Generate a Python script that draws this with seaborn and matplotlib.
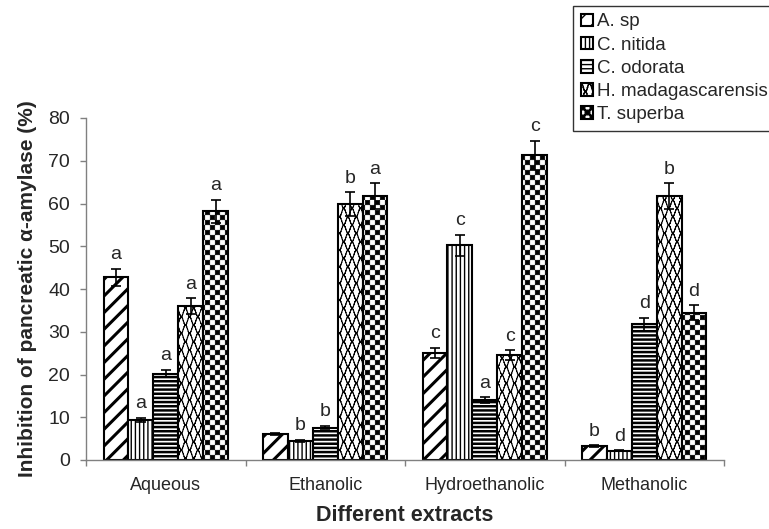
import numpy as np
import pandas as pd
import matplotlib
matplotlib.use("Agg")
import matplotlib.pyplot as plt
import matplotlib.hatch as mhatch
from matplotlib.path import Path
import seaborn as sns

# ---- data -------------------------------------------------------------
extracts = ["Aqueous", "Ethanolic", "Hydroethanolic", "Methanolic"]
species = ["A. sp", "C. nitida", "C. odorata", "H. madagascarensis", "T. superba"]

a_sp = [42.7, 6.1, 25.0, 3.2]
c_nitida = [9.4, 4.4, 50.2, 2.2]
c_odorata = [20.2, 7.6, 14.0, 31.7]
h_madagascarensis = [36.0, 59.8, 24.5, 61.7]
t_superba = [58.2, 61.7, 71.3, 34.5]

a_sp_err = [2.0, 0.3, 1.2, 0.2]
c_nitida_err = [0.5, 0.3, 2.5, 0.1]
c_odorata_err = [0.9, 0.4, 0.7, 1.6]
h_madagascarensis_err = [1.8, 2.8, 1.2, 3.0]
t_superba_err = [2.7, 3.0, 3.4, 1.7]

a_sp_sig = ["a", "", "c", "b"]
c_nitida_sig = ["a", "b", "c", "d"]
c_odorata_sig = ["a", "b", "a", "d"]
h_madagascarensis_sig = ["a", "b", "c", "b"]
t_superba_sig = ["a", "a", "c", "d"]

values = [a_sp, c_nitida, c_odorata, h_madagascarensis, t_superba]
errors = [a_sp_err, c_nitida_err, c_odorata_err, h_madagascarensis_err, t_superba_err]
letters = [a_sp_sig, c_nitida_sig, c_odorata_sig, h_madagascarensis_sig, t_superba_sig]

df = pd.DataFrame({
    "extract": [e for _ in species for e in extracts],
    "species": [s for s in species for _ in extracts],
    "inhibition": [v for vals in values for v in vals],
})


# ---- extra fill patterns: checkerboard ('c') and wave net ('w') --------
class CheckerHatch(mhatch.HatchPatternBase):
    def __init__(self, hatch, density):
        self.n = 20 * hatch.count("c")
        self.num_vertices = (self.n * self.n // 2) * 5 if self.n else 0

    def set_vertices_and_codes(self, vertices, codes):
        n = self.n
        s = 1.0 / n
        inset = 0.002
        k = 0
        for i in range(n):
            for j in range(n):
                if (i + j) % 2:
                    continue
                x0, y0 = i * s + inset, j * s + inset
                x1, y1 = (i + 1) * s - inset, (j + 1) * s - inset
                vertices[k:k + 5] = [(x0, y0), (x1, y0), (x1, y1), (x0, y1), (x0, y0)]
                codes[k:k + 5] = [Path.MOVETO, Path.LINETO, Path.LINETO,
                                  Path.LINETO, Path.CLOSEPOLY]
                k += 5


class WaveHatch(mhatch.HatchPatternBase):
    def __init__(self, hatch, density):
        c = hatch.count("w")
        self.rows = 12 * c
        self.cycles = 12 * c
        self.samples = self.cycles * 10
        self.num_vertices = self.rows * self.samples * 2 if c else 0

    def set_vertices_and_codes(self, vertices, codes):
        xs = np.linspace(0.0, 1.0, self.samples + 1)
        h = 1.0 / self.rows
        amp = 0.5 * h
        k = 0
        for r in range(self.rows):
            y0 = (r + 0.5) * h
            phase = 0.0 if r % 2 == 0 else np.pi
            ys = y0 + amp * np.sin(2 * np.pi * self.cycles * xs + phase)
            ys = np.clip(ys, 0.0, 1.0)
            for m in range(self.samples):
                vertices[k] = (xs[m], ys[m])
                vertices[k + 1] = (xs[m + 1], ys[m + 1])
                codes[k] = Path.MOVETO
                codes[k + 1] = Path.LINETO
                k += 2


mhatch._hatch_types.extend([CheckerHatch, WaveHatch])
mhatch._validate_hatch_pattern = lambda hatch: None

# ---- figure -------------------------------------------------------------
sns.set_style("white")
plt.rcParams["font.family"] = ["Liberation Sans", "DejaVu Sans"]

fig = plt.figure(figsize=(7.69, 5.29), dpi=100)
ax = fig.add_axes([86 / 769, 69 / 529, 638 / 769, 342 / 529])

sns.barplot(data=df, x="extract", y="inhibition", hue="species",
            order=extracts, hue_order=species, width=0.78,
            palette=["white"] * len(species), edgecolor="black",
            linewidth=1.5, saturation=1, errorbar=None, ax=ax)
if ax.get_legend() is not None:
    ax.get_legend().remove()

hatches = ["//", "||||", "----", "w", "c"]
hatch_lw = [2.2, 1.0, 1.8, 0.8, 0.4]

for cont, h, hlw, errs, labs in zip(ax.containers, hatches, hatch_lw, errors, letters):
    xs, ys = [], []
    for patch in cont:
        patch.set_hatch(h)
        patch.set_facecolor("white")
        patch.set_edgecolor("black")
        if hasattr(patch, "set_hatch_linewidth"):
            patch.set_hatch_linewidth(hlw)
        xs.append(patch.get_x() + patch.get_width() / 2)
        ys.append(patch.get_height())
    ax.errorbar(xs, ys, yerr=errs, fmt="none", ecolor="black",
                elinewidth=1.2, capsize=3.3, capthick=1.2, zorder=5)
    for x, y, e, t in zip(xs, ys, errs, labs):
        if t:
            ax.text(x, y + e + 1.3, t, ha="center", va="bottom", fontsize=14)

ax.set_xlim(-0.5, len(extracts) - 0.5)
ax.set_ylim(0, 80)
ax.set_yticks(np.arange(0, 81, 10))
ax.set_xticks(np.arange(-0.5, len(extracts), 1.0), minor=True)
ax.tick_params(axis="x", which="major", length=0, pad=12, labelsize=13)
ax.tick_params(axis="x", which="minor", length=4.5, width=1, color="#808080",
               direction="out", bottom=True)
ax.tick_params(axis="y", length=4.5, width=1, color="#808080", direction="out",
               left=True, labelsize=14, pad=7)

for side in ("top", "right"):
    ax.spines[side].set_visible(False)
for side in ("left", "bottom"):
    ax.spines[side].set_color("#808080")
    ax.spines[side].set_linewidth(1)

ax.set_xlabel("Different extracts", fontsize=15.5, fontweight="bold", labelpad=8)
ax.set_ylabel("Inhibition of pancreatic \u03b1-amylase (%)", fontsize=15,
              fontweight="bold", labelpad=8)

fig.legend(handles=list(ax.containers), labels=species,
           loc="upper left", bbox_to_anchor=(573 / 769, 1 - 6 / 529),
           borderaxespad=0, frameon=True, fancybox=False, shadow=False,
           edgecolor="#333333", framealpha=1, fontsize=13.5,
           handlelength=0.65, handleheight=0.65, handletextpad=0.25,
           labelspacing=0.33, borderpad=0.4)
fig.legends[0].get_frame().set_linewidth(1)

fig.savefig("out.png", dpi=100)
